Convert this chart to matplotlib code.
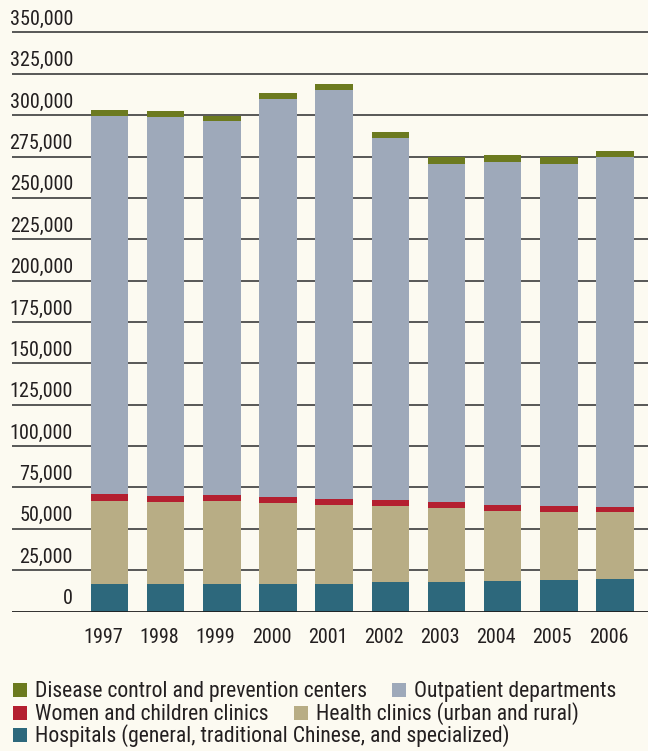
import matplotlib
matplotlib.use("Agg")
import matplotlib.pyplot as plt
from matplotlib.patches import Rectangle
from matplotlib import font_manager
import matplotlib.transforms as mtransforms
import numpy as np
import os

# ---- data -----------------------------------------------------------------
years = ['1997', '1998', '1999', '2000', '2001', '2002', '2003', '2004', '2005', '2006']
hospitals = [16600, 16600, 16700, 16600, 16500, 17700, 17700, 18600, 19200, 19800]
health_clinics = [50400, 49600, 50100, 49200, 48000, 46100, 45000, 42100, 40900, 40200]
women_children = [3800, 3600, 3600, 3600, 3400, 3600, 3400, 3400, 3400, 3400]
outpatient = [228900, 228900, 226100, 240200, 247200, 219000, 204200, 207700, 206800, 211200]
disease_control = [3400, 3600, 3200, 4000, 4000, 3600, 4200, 4200, 4400, 3600]

y_ticks = [0, 25000, 50000, 75000, 100000, 125000, 150000, 175000,
           200000, 225000, 250000, 275000, 300000, 325000, 350000]

series = [
    (hospitals, '#2d687c', 'Hospitals (general, traditional Chinese, and specialized)'),
    (health_clinics, '#b8ad85', 'Health clinics (urban and rural)'),
    (women_children, '#b41f30', 'Women and children clinics'),
    (outpatient, '#9ea9ba', 'Outpatient departments'),
    (disease_control, '#6c7a1f', 'Disease control and prevention centers'),
]


# ---- a narrow sans face for all text -------------------------------------
def pick_font():
    files = font_manager.findSystemFonts()
    prefs = ['liberationsansnarrow-regular', 'robotocondensed-regular',
             'opensans_condensed-regular', 'opensanscondensed-regular',
             'dejavusanscondensed.']
    lower = {os.path.basename(f).lower(): f for f in files}
    for p in prefs:
        for name, path in lower.items():
            if name.startswith(p):
                return path, True
    for name, path in lower.items():
        if ('narrow' in name or 'condensed' in name) and 'bold' not in name \
                and 'italic' not in name and 'oblique' not in name:
            return path, True
    return None, False


font_path, narrow = pick_font()


def face(size):
    if font_path:
        return font_manager.FontProperties(fname=font_path, size=size)
    return font_manager.FontProperties(family='Liberation Sans', size=size * 0.86)


AXIS_FONT = face(14.5)
LEG_FONT = face(15.6)

BG = '#fcfaf1'
TXT = '#231f20'

W, H = 648, 751
fig = plt.figure(figsize=(W / 100, H / 100), dpi=100, facecolor=BG)

# axes spans from the gridline start to the right edge; zero sits at y=611.5 px
left_px, zero_px = 12, 611.5
px_per_25k = 41.36
ax = fig.add_axes([left_px / W, (H - zero_px) / H, (W - left_px) / W, zero_px / H])
ax.set_facecolor(BG)

x = np.arange(len(years))
spacing = 56.17
first_center = 109.5 - left_px
x_left = -first_center / spacing
ax.set_xlim(x_left, x_left + (W - left_px) / spacing)
ax.set_ylim(0, 25000 * zero_px / px_per_25k)

# gridlines behind the bars
for v in y_ticks[1:]:
    ax.axhline(v, color='#4a4a4a', lw=1.3, zorder=1)

bottom = np.zeros(len(years))
for vals, col, lab in series:
    vals = np.array(vals, dtype=float)
    ax.bar(x, vals, width=0.667, bottom=bottom, color=col, zorder=2, linewidth=0)
    bottom += vals

ax.axhline(0, color='#1e1e1e', lw=2.0, zorder=3)

for s in ax.spines.values():
    s.set_visible(False)
ax.set_yticks([])

# year labels
ax.set_xticks(x - 0.115)
ax.set_xticklabels(years, color=TXT, fontproperties=AXIS_FONT)
ax.tick_params(axis='x', length=0, pad=12)

# value labels sitting above each gridline, right-aligned
lbl_x = (73 - left_px) / (W - left_px)
trans = mtransforms.offset_copy(ax.get_yaxis_transform(), fig=fig, x=0, y=3.5, units='dots')
for v in y_ticks:
    ax.text(lbl_x, v, f'{v:,}', transform=trans, ha='right', va='bottom',
            fontproperties=AXIS_FONT, color=TXT)

# legend laid out as flowing rows
rows = [
    [series[4], series[3]],
    [series[2], series[1]],
    [series[0]],
]
baselines = [697, 719.5, 742]
renderer = fig.canvas.get_renderer()
sw = 14
for row, base in zip(rows, baselines):
    xp = 13
    for vals, col, lab in row:
        fig.patches.append(Rectangle((xp / W, (H - base) / H), sw / W, sw / H,
                                     transform=fig.transFigure, facecolor=col,
                                     edgecolor='none'))
        t = fig.text((xp + 22) / W, (H - base) / H, lab, ha='left', va='baseline',
                     fontproperties=LEG_FONT, color=TXT)
        bb = t.get_window_extent(renderer=renderer)
        xp = bb.x1 + 25

fig.savefig('out.png', dpi=100, facecolor=BG)
